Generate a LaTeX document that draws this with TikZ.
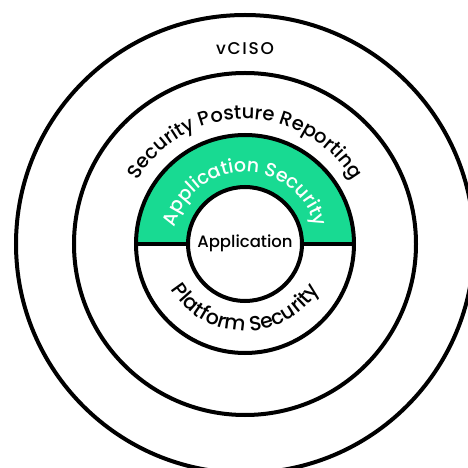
\documentclass[tikz,border=0pt]{standalone}
\usepackage{fontspec}
\setmainfont{Poppins}
\newfontfamily\poppinsmed{Poppins Medium}
\usepackage{tikz}
\usetikzlibrary{decorations.text}
\definecolor{appgreen}{RGB}{24, 218, 146}
\tikzstyle{ring} = [draw=black, line width=4pt]
\tikzstyle{label} = [text=black, font=\poppinsmed\fontsize{16.5}{20}\selectfont]
\tikzstyle{arclabel} = [decorate, decoration={text along path, text align=center}]

\begin{document}
\begin{tikzpicture}[x=1pt, y=1pt]
\useasboundingbox (-245,-224) rectangle (223,244);

% green half of the application security ring
\fill[appgreen] (-109,0) arc (180:0:109pt) -- (57,0) arc (0:180:57pt) -- cycle;

% rings =============================
\draw[ring] (0,0) circle (229pt);
\draw[ring] (0,0) circle (171pt);
\draw[ring] (0,0) circle (109pt);
\draw[ring, fill=white] (0,0) circle (57pt);
\draw[ring] (-109,0) -- (-57,0);
\draw[ring] (57,0) -- (109,0);

% labels
\node[label, font=\poppinsmed\fontsize{17}{20}\selectfont\addfontfeature{LetterSpace=10}] (vciso) at (0,195) {vCISO};
\node[label] (app) at (0,1) {Application};

\path[arclabel, decoration={text={|\poppinsmed\fontsize{19.5}{22}\selectfont|Security Posture Reporting}}]
  (-125,0) arc (180:0:125pt);
\path[arclabel, decoration={text color=white, text={|\poppinsmed\fontsize{19}{22}\selectfont|Application Security}}]
  (-72,0) arc (180:0:72pt);
\path[arclabel, decoration={text={|\poppinsmed\fontsize{20.5}{23}\selectfont|Platform Security}}]
  (-87,0) arc (180:360:87pt);

\end{tikzpicture}
\end{document}
